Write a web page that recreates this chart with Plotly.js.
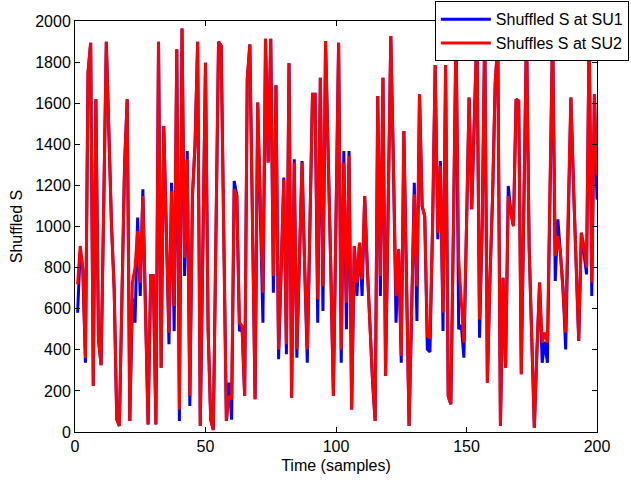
<!DOCTYPE html>
<html>
<head>
<meta charset="utf-8">
<script src="https://cdn.plot.ly/plotly-3.0.1.min.js"></script>
<style>html,body{margin:0;padding:0;background:#fff;}#chart{width:631px;height:483px;}</style>
</head>
<body>
<div id="chart"></div>
<script>
// Shuffled S at SU1 (blue), samples 1..200
const su1 = [
  580,880,790,337,1750,1894,224,1619,450,325,
  1100,1899,1450,1000,700,62,29,600,1300,1619,
  54,650,532,1043,662,1181,600,37,760,760,
  37,1899,313,1489,986,427,1213,491,1862,54,
  1963,759,1367,127,1150,1400,1899,29,900,1797,
  500,60,10,900,1899,1880,900,54,240,60,
  1221,1150,490,516,175,1716,1886,1000,159,1603,
  1100,532,1914,1311,1914,678,1687,354,800,1238,
  378,1794,167,1327,362,800,1319,800,337,1000,
  1643,1643,532,1724,589,1902,1400,800,175,1000,
  1894,337,1367,500,1367,110,905,662,921,662,
  1148,800,500,250,54,1635,662,1724,272,1000,
  1927,1300,532,889,337,1465,800,29,600,1213,
  540,1643,1100,1050,402,390,1000,1786,938,1319,
  491,1786,175,135,1000,1960,500,520,362,1000,
  1627,1084,1500,1960,459,1000,1970,240,750,1150,
  1700,1894,29,751,313,1197,1067,1002,1619,1610,
  281,1100,1960,900,500,20,400,727,337,440,
  337,1200,1960,735,1035,870,700,402,1100,1627,
  1200,800,443,970,873,767,1960,662,1643,1130
];
// Shuffles S at SU2 (red), samples 1..200
const su2 = [
  718,905,800,360,1750,1894,224,1619,450,325,
  1100,1899,1450,1000,700,62,29,600,1300,1619,
  54,727,800,978,727,1148,600,37,760,760,
  37,1899,313,1489,986,483,1173,613,1862,110,
  1963,848,1327,175,1150,1400,1899,29,900,1797,
  500,60,10,900,1899,1880,900,54,175,160,
  1181,1150,532,516,175,1716,1886,1000,159,1603,
  1100,678,1914,1311,1914,759,1687,402,800,1229,
  427,1794,167,1311,402,800,1311,800,402,1000,
  1643,1643,646,1724,710,1902,1400,800,175,1000,
  1894,402,1311,629,1343,110,905,727,921,743,
  1148,800,500,250,54,1635,759,1724,272,1000,
  1927,1300,662,889,370,1465,800,29,600,1157,
  710,1643,1100,1050,467,460,1000,1786,970,1294,
  581,1786,175,135,1000,1960,840,650,435,1000,
  1627,1084,1500,1960,548,1000,1970,240,750,1150,
  1700,1894,29,751,313,1148,1067,1002,1619,1610,
  281,1100,1960,900,500,20,400,727,435,483,
  435,1200,1960,856,954,870,700,483,1100,1627,
  1200,800,443,970,905,800,1960,727,1643,1250
];
const seriesNames = ["Shuffled S at SU1", "Shuffles S at SU2"];
const xTicks = [0, 50, 100, 150, 200];
const yTicks = [0, 200, 400, 600, 800, 1000, 1200, 1400, 1600, 1800, 2000];

const font = {family: "Liberation Sans, Arial, Helvetica, sans-serif", size: 16, color: "#000"};

const traces = [
  {y: su1, x0: 1, dx: 1, type: "scatter", mode: "lines", name: seriesNames[0],
   line: {color: "rgb(0,0,255)", width: 3}},
  {y: su2, x0: 1, dx: 1, type: "scatter", mode: "lines", name: seriesNames[1],
   line: {color: "rgb(255,0,0)", width: 3}}
];

const axisCommon = {
  showline: true, linecolor: "#000", linewidth: 1, mirror: "ticks",
  ticks: "inside", ticklen: 5, tickwidth: 1, tickcolor: "#000",
  showgrid: false, zeroline: false, tickfont: font
};

const layout = {
  width: 631, height: 483,
  paper_bgcolor: "#fff", plot_bgcolor: "#fff",
  margin: {l: 75, r: 34, t: 21, b: 51, pad: 0, autoexpand: false},
  font: font,
  showlegend: true,
  legend: {
    x: 1.061, y: 1.048, xanchor: "right", yanchor: "top",
    bgcolor: "#fff", bordercolor: "#000", borderwidth: 1,
    font: font, itemwidth: 50, tracegroupgap: 0
  },
  xaxis: Object.assign({}, axisCommon, {
    range: [0, 200], tickvals: xTicks, ticktext: xTicks.map(String),
    title: {text: "Time (samples)", font: font, standoff: 5}
  }),
  yaxis: Object.assign({}, axisCommon, {
    range: [0, 2000], tickvals: yTicks, ticktext: yTicks.map(String),
    title: {text: "Shuffled S", font: font, standoff: 8}
  })
};

Plotly.newPlot("chart", traces, layout, {displayModeBar: false, staticPlot: true});
</script>
</body>
</html>
